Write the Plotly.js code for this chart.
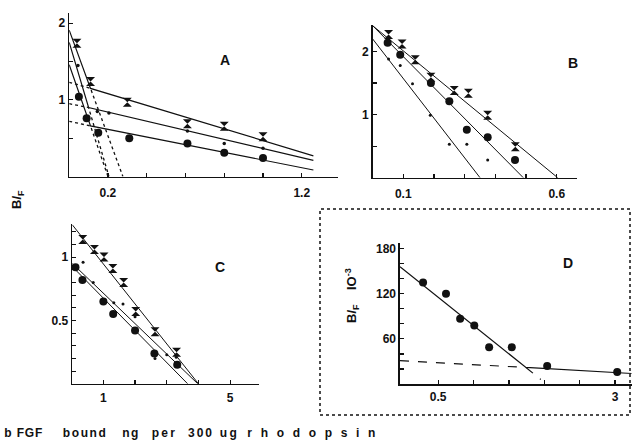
<!DOCTYPE html>
<html><head><meta charset="utf-8">
<script src="https://cdn.plot.ly/plotly-3.0.1.min.js"></script>
<style>html,body{margin:0;padding:0;background:#fff}#chart{width:635px;height:446px}</style>
</head><body><div id="chart"></div>
<script>
// ---------- Panel A ----------
const aCrossX = [0.04, 0.11, 0.30, 0.61, 0.80, 1.00];
const aCrossY = [1.74, 1.24, 0.97, 0.69, 0.655, 0.52];
const aDotX = [0.045, 0.145, 0.205, 0.61, 0.80, 1.00];
const aDotY = [1.45, 0.85, 0.83, 0.595, 0.43, 0.37];
const aCircX = [0.05, 0.09, 0.15, 0.31, 0.61, 0.80, 1.00];
const aCircY = [1.04, 0.76, 0.57, 0.50, 0.43, 0.31, 0.24];
const aFitUpX = [0, 0.11, 1.26], aFitUpY = [1.91, 1.15, 0.27];
const aFitMidX = [0, 0.10, 1.26], aFitMidY = [1.75, 0.90, 0.21];
const aFitLowX = [0, 0.11, 1.26], aFitLowY = [1.46, 0.66, 0.085];
const aExtUpX = [0, 0.11, 0.277], aExtUpY = [1.23, 1.15, 0];
const aExtMidX = [0, 0.10, 0.205], aExtMidY = [0.95, 0.90, 0];
const aExtLowX = [0, 0.11, 0.20], aExtLowY = [0.72, 0.66, 0];

// ---------- Panel B ----------
const bCrossX = [0.052, 0.096, 0.139, 0.19, 0.266, 0.312, 0.375, 0.465];
const bCrossY = [2.27, 2.12, 1.87, 1.59, 1.38, 1.34, 0.99, 0.49];
const bCircX = [0.049, 0.09, 0.19, 0.25, 0.307, 0.375, 0.464];
const bCircY = [2.14, 1.95, 1.50, 1.21, 0.76, 0.64, 0.28];
const bDotX = [0.052, 0.09, 0.13, 0.188, 0.25, 0.307, 0.375];
const bDotY = [1.88, 1.78, 1.49, 0.99, 0.53, 0.53, 0.28];
const bFitOuterX = [0, 0.603], bFitOuterY = [2.41, 0];
const bFitMidX = [0, 0.491], bFitMidY = [2.41, 0];
const bFitInnerX = [0, 0.35], bFitInnerY = [2.20, 0];

// ---------- Panel C ----------
const cCrossX = [0.35, 0.72, 1.02, 1.30, 1.64, 2.02, 2.63, 3.31];
const cCrossY = [1.14, 1.06, 1.00, 0.91, 0.80, 0.57, 0.41, 0.25];
const cCircX = [0.12, 0.34, 1.00, 1.31, 2.00, 2.61, 3.33];
const cCircY = [0.92, 0.82, 0.65, 0.55, 0.42, 0.24, 0.15];
const cDotX = [0.36, 0.68, 1.33, 1.62, 2.00, 2.63, 3.00, 3.30];
const cDotY = [0.96, 0.80, 0.64, 0.63, 0.53, 0.20, 0.23, 0.21];
const cFitCrossX = [0.02, 4.00], cFitCrossY = [1.255, 0];
const cFitDotX = [0.02, 3.98], cFitDotY = [0.95, 0];
const cFitCircX = [0.02, 3.66], cFitCircY = [0.925, 0];

// ---------- Panel D ----------
const dX = [0.286, 0.61, 0.81, 1.01, 1.22, 1.54, 2.04, 3.03];
const dY = [135, 120, 86.7, 77.8, 48.9, 48.9, 24, 16];
const dFitX = [-0.04, 1.74, 3.235], dFitY = [156, 22, 14];
const dDashShallowX = [-0.04, 1.74], dDashShallowY = [31, 22];
const dDashSteepX = [1.74, 1.95], dDashSteepY = [22, 6];

// ---------- ticks ----------
const aXLab = [0.2, 1.2], aXLabText = ['0.2', '1.2'], aXMinor = [0.2, 0.4, 0.6, 0.8, 1.0, 1.2];
const aYLab = [1, 2], aYLabText = ['1', '2'], aYMinor = [0.5, 1, 1.5, 2];
const bXLab = [0.1, 0.6], bXLabText = ['0.1', '0.6'], bXMinor = [0.1, 0.2, 0.3, 0.4, 0.5, 0.6];
const bYLab = [1, 2], bYLabText = ['1', '2'], bYMinor = [0.5, 1, 1.5, 2];
const cXLab = [1, 5], cXLabText = ['1', '5'], cXMinor = [1, 2, 3, 4, 5];
const cYLab = [0.5, 1], cYLabText = ['0.5', '1'], cYMinor = [0.1,0.2,0.3,0.4,0.5,0.6,0.7,0.8,0.9,1.0,1.1,1.2];
const dXLab = [0.5, 3], dXLabText = ['0.5', '3'], dXMinor = [0.5, 1, 1.5, 2, 2.5, 3];
const dYLab = [60, 120, 180], dYLabText = ['60', '120', '180'], dYMinor = [20,40,60,80,100,120,140,160,180];

// ---------- text ----------
const panelLetters = ['A', 'B', 'C', 'D'];
const xTitleWords = ['b FGF', 'bound', 'ng', 'per', '300', 'ug', 'rhodopsin'];

const W = 635, H = 446;
const px = v => v / W, py = v => 1 - v / H;
const FONT = 'Liberation Sans, Arial, sans-serif';

function pts(x, y, ax, sym, size) {
  return {x, y, xaxis: ax[0], yaxis: ax[1], type: 'scatter', mode: 'markers',
    marker: {symbol: sym, size, color: '#111', line: {width: 0}}, hoverinfo: 'skip', showlegend: false, cliponaxis: false};
}
function line(x, y, ax, dash, w) {
  return {x, y, xaxis: ax[0], yaxis: ax[1], type: 'scatter', mode: 'lines',
    line: {color: '#111', width: w || 1.2, dash: dash || 'solid'}, hoverinfo: 'skip', showlegend: false, cliponaxis: false};
}
const A = ['x', 'y'], B = ['x2', 'y2'], C = ['x3', 'y3'], D = ['x4', 'y4'];

const traces = [
  line(aFitUpX, aFitUpY, A), line(aFitMidX, aFitMidY, A), line(aFitLowX, aFitLowY, A),
  line(aExtUpX, aExtUpY, A, 'dot', 1.3), line(aExtMidX, aExtMidY, A, 'dot', 1.3), line(aExtLowX, aExtLowY, A, 'dot', 1.3),
  pts(aCrossX, aCrossY, A, 'hourglass', 9), pts(aDotX, aDotY, A, 'circle', 3.5), pts(aCircX, aCircY, A, 'circle', 8),

  line(bFitOuterX, bFitOuterY, B, 'solid', 1), line(bFitMidX, bFitMidY, B, 'solid', 1), line(bFitInnerX, bFitInnerY, B, 'solid', 1),
  pts(bCrossX, bCrossY, B, 'hourglass', 9), pts(bCircX, bCircY, B, 'circle', 8), pts(bDotX, bDotY, B, 'circle', 3),

  line(cFitCrossX, cFitCrossY, C, 'solid', 1), line(cFitDotX, cFitDotY, C, 'solid', 1), line(cFitCircX, cFitCircY, C, 'solid', 1),
  pts(cCrossX, cCrossY, C, 'hourglass', 9), pts(cCircX, cCircY, C, 'circle', 8), pts(cDotX, cDotY, C, 'circle', 3),

  line(dFitX, dFitY, D, 'solid', 1.2), line(dDashShallowX, dDashShallowY, D, 'dash', 1.2), line(dDashSteepX, dDashSteepY, D, 'dash', 1.2),
  pts(dX, dY, D, 'circle', 8)
];

function ax(dom, range, tv, tt, minorVals, anchor, standoff) {
  return {domain: dom, range, anchor, tickmode: 'array', tickvals: tv, ticktext: tt,
    ticks: 'inside', ticklen: 4, tickwidth: 1.2, tickcolor: '#111', ticklabelstandoff: standoff || 0,
    minor: {tickmode: 'array', tickvals: minorVals, ticks: 'inside', ticklen: 4, tickwidth: 1.2, tickcolor: '#111', showgrid: false},
    showline: true, linecolor: '#111', linewidth: 1.6, showgrid: false, zeroline: false,
    tickfont: {family: FONT, size: 12, color: '#111', weight: 'bold'}, fixedrange: true};
}

const letterPos = [[225, 60], [573, 63], [220, 267], [568, 263]];
const wordPos = [[23, 38], [84.5, 43], [130, 16], [163.5, 23], [200, 24], [228.5, 17], [311, 128]];

const layout = {
  width: W, height: H, margin: {l: 0, r: 0, t: 0, b: 0},
  paper_bgcolor: '#fff', plot_bgcolor: 'rgba(0,0,0,0)', showlegend: false,
  xaxis: ax([px(69.2), px(338)], [0, 1.387], aXLab, aXLabText, aXMinor, 'y', 4),
  yaxis: ax([py(176.5), py(13)], [0, 2.134], aYLab, aYLabText, aYMinor, 'x', 0),
  xaxis2: ax([px(372.6), px(577)], [0, 0.666], bXLab, bXLabText, bXMinor, 'y2', 4),
  yaxis2: ax([py(177.7), py(25)], [0, 2.42], bYLab, bYLabText, bYMinor, 'x2', 0),
  xaxis3: ax([px(72.3), px(259)], [0.02, 5.91], cXLab, cXLabText, cXMinor, 'y3', 2),
  yaxis3: ax([py(383.8), py(224.3)], [0, 1.259], cYLab, cYLabText, cYMinor, 'x3', 0),
  xaxis4: ax([px(400), px(631.7)], [-0.04, 3.235], dXLab, dXLabText, dXMinor, 'y4', 1),
  yaxis4: ax([py(384), py(242.7)], [0, 188], dYLab, dYLabText, dYMinor, 'x4', 0),
  shapes: [{type: 'rect', xref: 'paper', yref: 'paper', x0: px(320), x1: px(630), y0: py(415), y1: py(209),
    line: {color: '#111', width: 1.5, dash: 'dot'}}],
  annotations: panelLetters.map((t, i) => ({text: t, x: px(letterPos[i][0]), y: py(letterPos[i][1]),
      xref: 'paper', yref: 'paper', showarrow: false, xanchor: 'center', yanchor: 'middle',
      font: {family: FONT, size: 14, color: '#111', weight: 'bold'}}))
    .concat([
      {text: 'B/<sub>F</sub>', x: px(18), y: py(200), textangle: -90, xref: 'paper', yref: 'paper', showarrow: false,
        xanchor: 'center', yanchor: 'middle', font: {family: FONT, size: 13, color: '#111', weight: 'bold'}},
      {text: 'B/<sub>F</sub>\u00a0\u00a0\u00a0\u00a0IO<sup>-3</sup>', x: px(352), y: py(296), textangle: -90, xref: 'paper', yref: 'paper', showarrow: false,
        xanchor: 'center', yanchor: 'middle', font: {family: FONT, size: 13, color: '#111', weight: 'bold'}}
    ])
    .concat(xTitleWords.map((t, i) => ({text: t, x: px(wordPos[i][0]), y: py(433), xref: 'paper', yref: 'paper',
      showarrow: false, xanchor: 'center', yanchor: 'middle', font: {family: FONT, size: 12, color: '#111', weight: 'bold'}})))
};

Plotly.newPlot('chart', traces, layout, {staticPlot: true, displayModeBar: false}).then(() => {
  // stretch the spaced-out axis caption words to the widths they occupy in the original figure
  document.querySelectorAll('.annotation-text').forEach(el => {
    const i = xTitleWords.indexOf(el.textContent);
    if (i >= 0) {
      const natural = el.getComputedTextLength();
      if (wordPos[i][1] > natural) {
        el.setAttribute('textLength', wordPos[i][1]);
        el.setAttribute('lengthAdjust', 'spacing');
      }
    }
  });
});
</script></body></html>
